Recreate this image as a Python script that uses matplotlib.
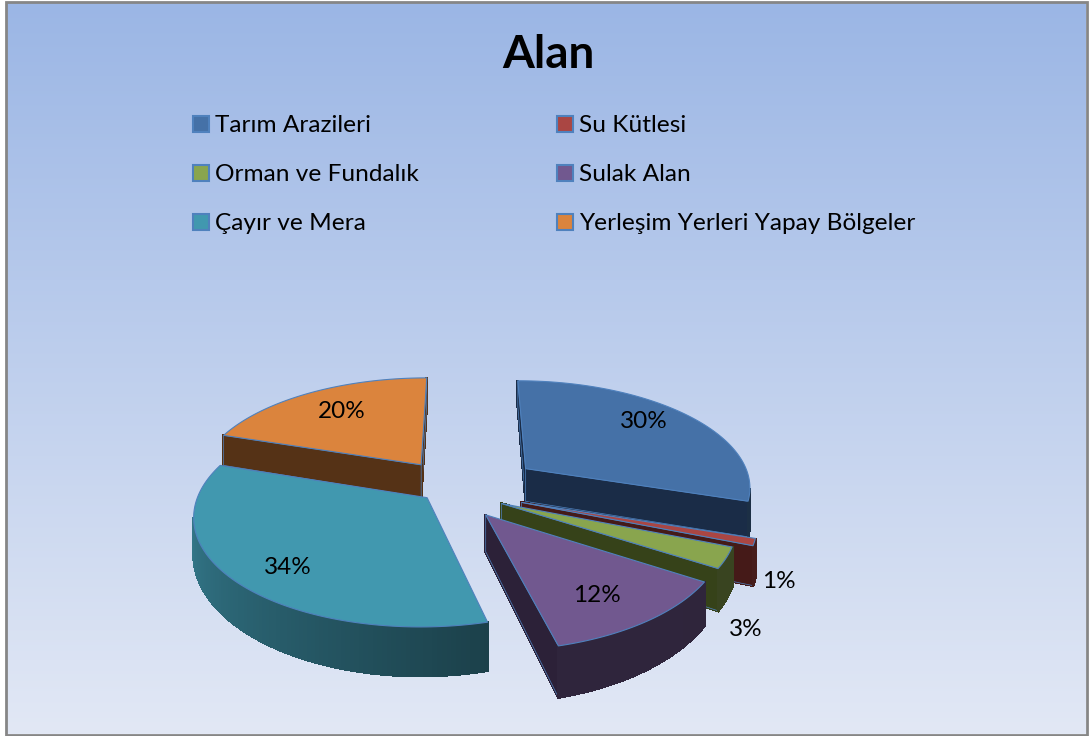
import numpy as np
import matplotlib
matplotlib.use("Agg")
import matplotlib.pyplot as plt
from matplotlib.patches import Polygon, Rectangle
from matplotlib.colors import to_rgb

title = "Alan"
categories = ["Tarım Arazileri", "Su Kütlesi", "Orman ve Fundalık",
              "Sulak Alan", "Çayır ve Mera", "Yerleşim Yerleri Yapay Bölgeler"]
values = [30, 1, 3, 12, 34, 20]
labels = ["30%", "1%", "3%", "12%", "34%", "20%"]

colors = ["#4571A7", "#AA4643", "#89A54E", "#71588F", "#4198AF", "#DB843D"]
cut_colors = ["#1A2C47", "#451A18", "#364219", "#2C2138", "#1C4550", "#553216"]
offset_x = [0.275, 0.245, 0.158, 0.088, -0.165, -0.20]
offset_y = [0.14, -0.18, -0.19, -0.29, -0.137, 0.178]
draw_order = [5, 0, 1, 2, 4, 3]
label_xy = [(644, 421), (779, 582), (746, 630), (597, 595), (288, 567), (342, 411)]
legend_xy = [(193, 124), (557, 124), (193, 173), (557, 173), (193, 222), (557, 222)]

plt.rcParams["font.family"] = ["Lato", "DejaVu Sans"]
fig = plt.figure(figsize=(10.89, 7.36), dpi=100)
ax = fig.add_axes([0, 0, 1, 1])
ax.axis("off")

# background gradient
top, bot = np.array(to_rgb("#9BB6E5")), np.array(to_rgb("#E2E8F5"))
t = np.linspace(0, 1, 256)[:, None, None]
ax.imshow(top * (1 - t) + bot * t, extent=(6, 1086, 734, 2), aspect="auto", zorder=0)
ax.set_xlim(0, 1089)
ax.set_ylim(736, 0)
ax.add_patch(Rectangle((5.5, 1.5), 1081, 733, fc="none", ec="#868686", lw=2, zorder=1))

CX, CY, A, B, K, D, KD = 465, 483, 225, 105, 0.15, 34, 0.27
EDGE = "#4F81BD"


def proj(X, Y):
    w = 1 + K * Y
    return CX + A * X / w, CY - B * Y / w


def depth(Y):
    return D / (1 + KD * Y)


def shade(theta):
    return np.interp(theta, [0, 165, 288, 360], [0.40, 0.42, 0.90, 0.90])


def darker(c, f):
    return tuple(np.array(to_rgb(c)) * f)


frac = np.array(values, float) / np.sum(values)
ends = np.cumsum(frac) * 360
starts = ends - frac * 360

for i in draw_order:
    a0, a1 = starts[i], ends[i]
    ox, oy = offset_x[i], offset_y[i]
    th = np.linspace(a0, a1, max(6, int((a1 - a0) * 1.0)))
    rad = np.radians(th)
    wx = np.r_[ox, ox + np.sin(rad)]
    wy = np.r_[oy, oy + np.cos(rad)]
    sx, sy = proj(wx, wy)
    dz = depth(wy)
    n = len(sx)
    z = 2 + draw_order.index(i)
    faces = []
    for j in range(n):
        k = (j + 1) % n
        if sx[k] - sx[j] >= 0:   # clockwise on screen: moving left means facing the viewer
            continue
        is_rim = j >= 1 and k >= 1
        col = darker(colors[i], shade((th[j - 1] + th[k - 1]) / 2)) if is_rim else cut_colors[i]
        faces.append(((sy[j] + sy[k]) / 2, j, k, col, is_rim))
    for _, j, k, col, is_rim in sorted(faces, key=lambda f: f[0]):
        quad = [(sx[j], sy[j]), (sx[k], sy[k]), (sx[k], sy[k] + dz[k]), (sx[j], sy[j] + dz[j])]
        ax.add_patch(Polygon(quad, closed=True, fc=col, ec=col, lw=1.3, antialiased=False, zorder=z))
        if not is_rim:
            ax.add_patch(Polygon(quad, closed=True, fc="none", ec=EDGE, lw=0.5, zorder=z))
    ax.add_patch(Polygon(np.c_[sx, sy], closed=True, fc=colors[i], ec=EDGE, lw=0.8,
                         joinstyle="round", zorder=z + 0.5))

for (x, y), s in zip(label_xy, labels):
    ax.text(x, y, s, fontsize=17.5, ha="center", va="center", color="black", zorder=20)

ax.text(548, 55, title, fontsize=33, fontweight="bold", ha="center", va="center", color="black", zorder=20)

for (x, y), c, s in zip(legend_xy, colors, categories):
    ax.add_patch(Rectangle((x, y - 8), 16, 16, fc=c, ec=EDGE, lw=1.5, zorder=5))
    ax.text(x + 22, y + 1.5, s, fontsize=17.6, ha="left", va="center", color="black", zorder=20)

fig.savefig("out.png", dpi=100)
